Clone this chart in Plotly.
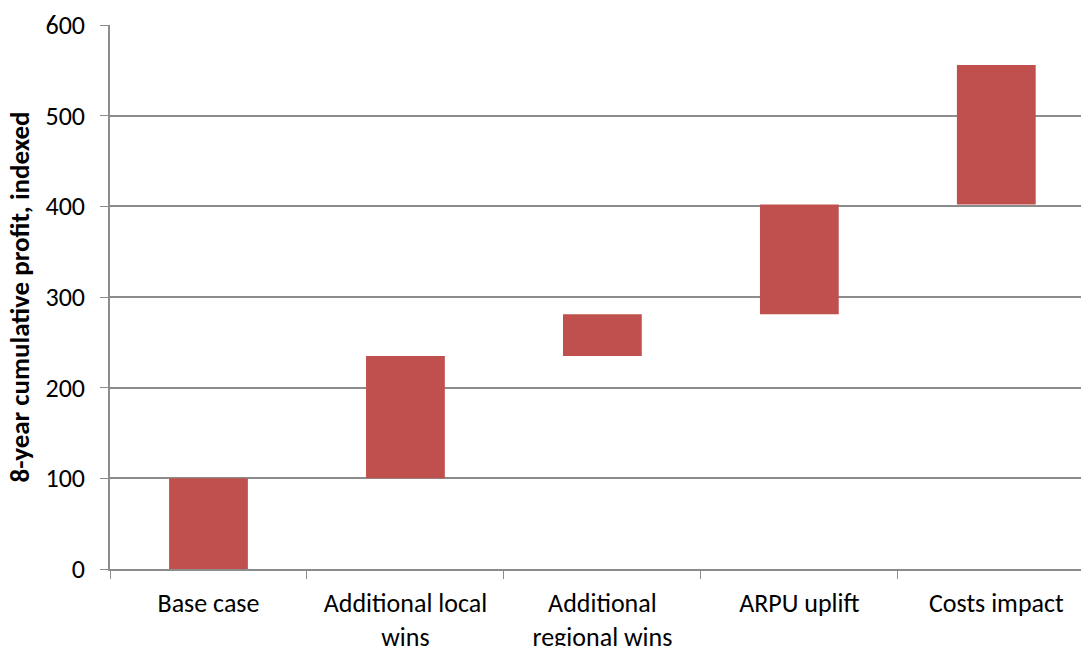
import plotly.graph_objects as go

# Profit bridge: each step adds to the running cumulative total
categories = ["Base case", "Additional local<br>wins", "Additional<br>regional wins",
              "ARPU uplift", "Costs impact"]
step_start = [0, 100, 235, 281, 402]
step_end = [100, 235, 281, 402, 556]

y_ticks = [0, 100, 200, 300, 400, 500, 600]

bar_color = "#C0504D"
grid_color = "#8C8C8C"
font_family = "Carlito, Calibri, Lato, 'Open Sans', sans-serif"

heights = [e - s for s, e in zip(step_start, step_end)]

fig = go.Figure(
    go.Bar(
        x=categories,
        y=heights,
        base=step_start,
        width=0.4,
        marker=dict(color=bar_color, line=dict(width=0)),
        hoverinfo="skip",
    )
)

fig.update_layout(
    width=1081,
    height=646,
    margin=dict(l=110, r=0, t=25, b=77),
    paper_bgcolor="white",
    plot_bgcolor="white",
    showlegend=False,
    font=dict(family=font_family, size=26, color="#000000"),
)

fig.update_xaxes(
    type="category",
    range=[-0.5, 4.43],
    automargin=False,
    showline=True,
    linecolor=grid_color,
    linewidth=1.5,
    ticks="outside",
    tickson="boundaries",
    ticklen=8,
    tickcolor=grid_color,
    tickwidth=1,
    showgrid=False,
    ticklabelstandoff=10,
    tickfont=dict(size=26),
)

fig.update_yaxes(
    range=[0, 600],
    tickvals=y_ticks,
    automargin=False,
    showline=True,
    linecolor=grid_color,
    linewidth=1.5,
    ticks="outside",
    ticklen=8,
    tickcolor=grid_color,
    tickwidth=1,
    showgrid=True,
    gridcolor=grid_color,
    gridwidth=1.5,
    zeroline=False,
    ticklabelstandoff=10,
    tickfont=dict(size=26),
    title=dict(text="<b>8-year cumulative profit, indexed</b>", font=dict(size=27), standoff=8),
)

fig.write_html("out.html")
